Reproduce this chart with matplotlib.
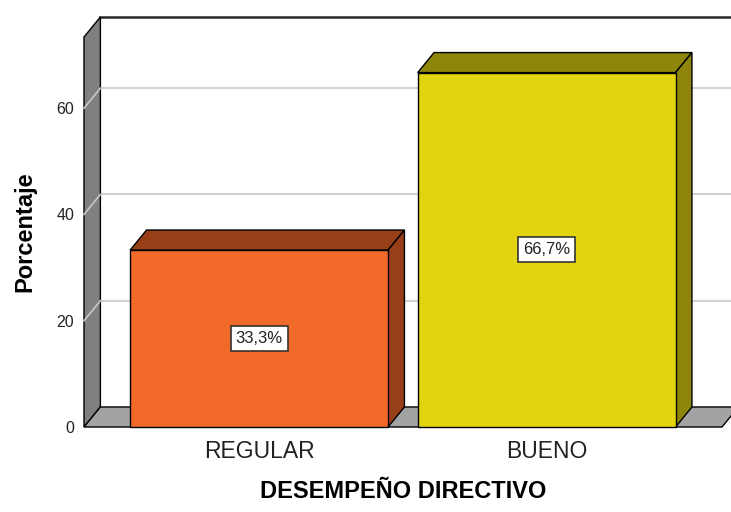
import numpy as np
import matplotlib.pyplot as plt
from matplotlib.patches import Polygon, Rectangle

plt.rcParams['font.family'] = ['Liberation Sans', 'DejaVu Sans']

#data
categorias = ['REGULAR', 'BUENO']
porcentajes = [33.3, 66.7]
etiquetas = ['33,3%', '66,7%']
colores = ['#f26a2a', '#e2d50f']
colores_osc = ['#983f1a', '#8e860a']
yticks = [0, 20, 40, 60]

#3d depth (data units) and frame
DX = 0.057
DY = 3.77
w = 0.897
xmin, xmax = -0.609, 1.61
ymax = 73.4

fig = plt.figure(figsize=(7.31, 5.12), dpi=100)
ax = fig.add_axes([84/731, 85/512, 638/731, 390/512])
ax.set_xlim(xmin, xmax)
ax.set_ylim(0, ymax)
for s in ax.spines.values():
    s.set_visible(False)
ax.patch.set_alpha(0)

#back wall grid lines
for v in yticks[1:]:
    ax.plot([xmin+DX, xmax+DX+0.2], [v+DY, v+DY], color='#d2d2d2', lw=1.5, clip_on=False, zorder=1)

#top line of the back wall
ax.plot([xmin+DX, xmax+DX+0.2], [ymax+DY, ymax+DY], color='#2a2a2a', lw=1.8, clip_on=False, zorder=1)

#left wall
pared = Polygon([(xmin, 0), (xmin, ymax), (xmin+DX, ymax+DY), (xmin+DX, DY)],
                facecolor='#808080', edgecolor='black', lw=1, clip_on=False, zorder=2)
ax.add_patch(pared)
for v in yticks[1:]:
    ax.plot([xmin, xmin+DX], [v, v+DY], color='#c8c8c8', lw=1.2, clip_on=False, zorder=3)

#floor
piso = Polygon([(xmin, 0), (xmin+DX, DY), (xmax+DX, DY), (xmax, 0)],
               facecolor='#a3a3a3', edgecolor='black', lw=1, clip_on=False, zorder=2)
ax.add_patch(piso)

#bars
for i in range(len(categorias)):
    v = porcentajes[i]
    l = i - w/2
    r = i + w/2
    top = Polygon([(l, v), (l+DX, v+DY), (r+DX, v+DY), (r, v)],
                  facecolor=colores_osc[i], edgecolor='black', lw=1, clip_on=False, zorder=4)
    side = Polygon([(r, 0), (r+DX, DY), (r+DX, v+DY), (r, v)],
                   facecolor=colores_osc[i], edgecolor='black', lw=1, clip_on=False, zorder=4)
    front = Rectangle((l, 0), w, v, facecolor=colores[i], edgecolor='black', lw=1,
                      clip_on=False, zorder=5)
    ax.add_patch(top)
    ax.add_patch(side)
    ax.add_patch(front)
    ax.text(i, v/2, etiquetas[i], ha='center', va='center', fontsize=12, color='#222222', zorder=6,
            bbox=dict(boxstyle='square,pad=0.3', facecolor='white', edgecolor='#333333', lw=1.2))

ax.set_yticks(yticks)
ax.set_yticklabels([str(t) for t in yticks], va='center_baseline')
ax.set_xticks(range(len(categorias)))
ax.set_xticklabels(categorias)
ax.tick_params(axis='y', length=0, pad=7, labelsize=11.5, labelcolor='#222222')
ax.tick_params(axis='x', length=0, pad=9, labelsize=16.5, labelcolor='#222222')

ax.set_ylabel('Porcentaje', fontsize=17, fontweight='bold')
ax.yaxis.set_label_coords(-0.075, 0.5)
ax.set_xlabel('DESEMPEÑO DIRECTIVO', fontsize=17, fontweight='bold')
ax.xaxis.set_label_coords(0.501, -0.135)

plt.savefig('out.png', dpi=100)
